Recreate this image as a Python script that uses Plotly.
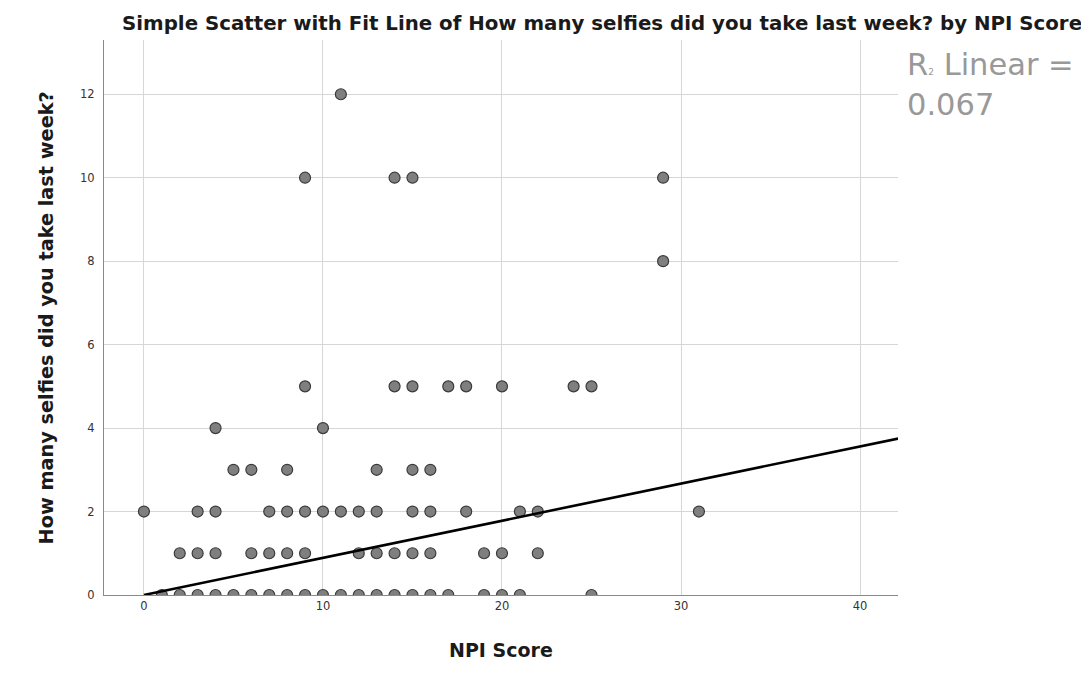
import plotly.graph_objects as go

# Data: NPI score values present at each selfie count
selfie_levels = [0, 1, 2, 3, 4, 5, 8, 10, 12]
npi_at_0 = [1, 2, 3, 4, 5, 6, 7, 8, 9, 10, 11, 12, 13, 14, 15, 16, 17, 19, 20, 21, 25]
npi_at_1 = [2, 3, 4, 6, 7, 8, 9, 12, 13, 14, 15, 16, 19, 20, 22]
npi_at_2 = [0, 3, 4, 7, 8, 9, 10, 11, 12, 13, 15, 16, 18, 21, 22, 31]
npi_at_3 = [5, 6, 8, 13, 15, 16]
npi_at_4 = [4, 10]
npi_at_5 = [9, 14, 15, 17, 18, 20, 24, 25]
npi_at_8 = [29]
npi_at_10 = [9, 14, 15, 29]
npi_at_12 = [11]

fit_intercept = 0.0
fit_slope = 0.089
fit_x_range = [0, 42.2]
r2_value = 0.067

x_ticks = [0, 10, 20, 30, 40]
y_ticks = [0, 2, 4, 6, 8, 10, 12]

groups = [npi_at_0, npi_at_1, npi_at_2, npi_at_3, npi_at_4, npi_at_5,
          npi_at_8, npi_at_10, npi_at_12]
xs, ys = [], []
for lvl, g in zip(selfie_levels, groups):
    xs += g
    ys += [lvl] * len(g)

fig = go.Figure()
fig.add_trace(go.Scatter(
    x=xs, y=ys, mode="markers",
    marker=dict(size=11, color="#7f7f7f", line=dict(color="#3a3a3a", width=1.2)),
    showlegend=False, hoverinfo="x+y",
))
fit_y = [fit_intercept + fit_slope * v for v in fit_x_range]
fig.add_trace(go.Scatter(
    x=fit_x_range, y=fit_y, mode="lines",
    line=dict(color="#000000", width=2.6),
    showlegend=False, hoverinfo="skip",
))

axis_common = dict(
    showgrid=True, gridcolor="#d6d6d6", gridwidth=1,
    zeroline=False, showline=True, linecolor="#8a8a8a", linewidth=1,
    ticks="", tickfont=dict(family="DejaVu Sans", size=11.5, color="#333333"),
)
fig.update_xaxes(range=[-2.23, 42.12], tickvals=x_ticks, **axis_common)
fig.update_yaxes(range=[0, 13.3], tickvals=y_ticks, ticklabelstandoff=6, **axis_common)

fig.update_layout(
    width=1089, height=673,
    margin=dict(l=96, r=199, t=32, b=86),
    paper_bgcolor="white", plot_bgcolor="white",
    title=dict(
        text="<b>Simple Scatter with Fit Line of How many selfies did you take last week? by NPI Score</b>",
        font=dict(family="DejaVu Sans", size=19.8, color="#1a1a1a"),
        x=0.5455, xanchor="center", xref="container",
        y=1 - 15 / 673, yanchor="middle", yref="container",
    ),
    annotations=[
        dict(text="<b>NPI Score</b>", xref="paper", yref="paper",
             x=0.5, y=-0.099, xanchor="center", yanchor="middle", showarrow=False,
             font=dict(family="DejaVu Sans", size=19, color="#1a1a1a")),
        dict(text="<b>How many selfies did you take last week?</b>", xref="paper", yref="paper",
             x=-0.0718, y=0.5, xanchor="center", yanchor="middle", showarrow=False,
             textangle=-90,
             font=dict(family="DejaVu Sans", size=19.3, color="#1a1a1a")),
        dict(text=f"R<span style='font-size:9px'>2</span> Linear =<br>{r2_value:.3f}",
             xref="paper", yref="paper", x=1.0088, y=0.991,
             xanchor="left", yanchor="top", align="left", showarrow=False,
             font=dict(family="DejaVu Sans", size=30.5, color="#999999")),
    ],
)

fig.write_html("out.html")
